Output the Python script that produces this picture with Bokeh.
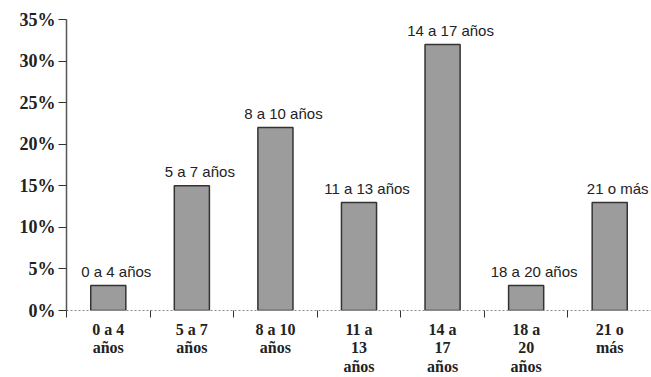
from bokeh.plotting import figure
from bokeh.models import FixedTicker, Range1d, ColumnDataSource
from bokeh.embed import file_html
from bokeh.resources import INLINE
from bokeh.core.properties import value

categories = ["0 a 4\naños", "5 a 7\naños", "8 a 10\naños", "11 a\n13\naños",
              "14 a\n17\naños", "18 a\n20\naños", "21 o\nmás"]
bar_labels = ["0 a 4 años", "5 a 7 años", "8 a 10 años", "11 a 13 años",
              "14 a 17 años", "18 a 20 años", "21 o más"]
values = [3, 15, 22, 13, 32, 3, 13]
y_ticks = [0, 5, 10, 15, 20, 25, 30, 35]
y_tick_labels = ["0%", "5%", "10%", "15%", "20%", "25%", "30%", "35%"]

n = len(categories)
centers = [i + 0.5 for i in range(n)]

p = figure(width=651, height=377, output_backend="svg", toolbar_location=None,
           x_range=Range1d(0, n), y_range=Range1d(0, 35),
           min_border_left=66, min_border_right=0, min_border_top=19, min_border_bottom=66)
p.outline_line_color = None
p.xgrid.grid_line_color = None
p.ygrid.grid_line_color = None

src = ColumnDataSource(dict(x=centers, top=values, lab=bar_labels))
p.vbar(x="x", top="top", width=0.42, bottom=0, source=src,
       fill_color="#9c9c9c", line_color="#333333", line_width=1.5)
p.text(x="x", y="top", text="lab", source=src, text_align="center",
       text_baseline="alphabetic", x_offset=8, y_offset=-14,
       text_font=value("Liberation Sans"), text_font_size="15px", text_color="#222222")

# x axis
xa = p.xaxis[0]
xa.ticker = FixedTicker(ticks=centers, minor_ticks=list(range(n + 1)))
xa.major_label_overrides = {c: lab for c, lab in zip(centers, categories)}
xa.major_tick_out = 0
xa.major_tick_in = 0
xa.minor_tick_out = 7
xa.minor_tick_in = 0
xa.minor_tick_line_color = "#333333"
xa.axis_line_color = "#888888"
xa.axis_line_dash = "2 2"
xa.major_label_standoff = 3
xa.major_label_text_font = "Liberation Serif"
xa.major_label_text_font_style = "bold"
xa.major_label_text_font_size = "16px"
xa.major_label_text_line_height = 1.1
xa.major_label_text_color = "#222222"

# y axis
ya = p.yaxis[0]
ya.ticker = FixedTicker(ticks=y_ticks)
ya.major_label_overrides = {t: l for t, l in zip(y_ticks, y_tick_labels)}
ya.minor_tick_line_color = None
ya.major_tick_out = 8
ya.major_tick_in = 0
ya.major_tick_line_color = "#333333"
ya.axis_line_color = "#555555"
ya.axis_line_width = 1.5
ya.major_label_standoff = 3
ya.major_label_text_font = "Liberation Serif"
ya.major_label_text_font_style = "bold"
ya.major_label_text_font_size = "18px"
ya.major_label_text_color = "#222222"

open("out.html", "w").write(file_html(p, INLINE))
